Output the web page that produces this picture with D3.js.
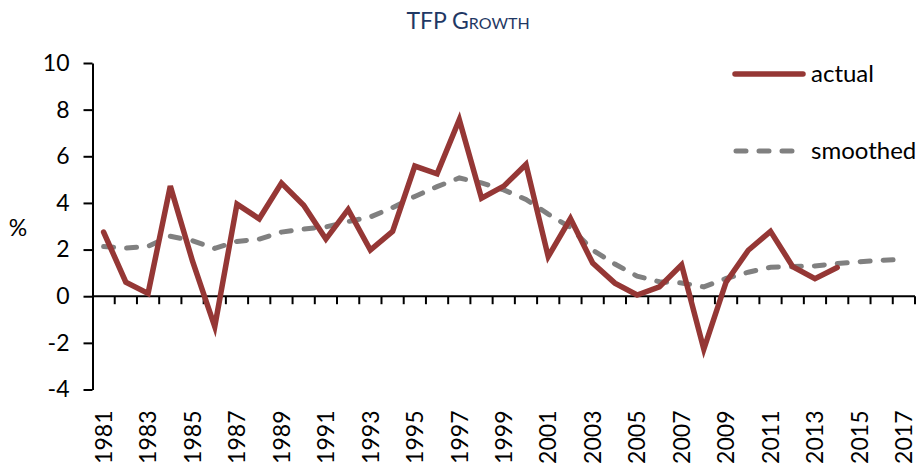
<!DOCTYPE html>
<html>
<head>
<meta charset="utf-8">
<script src="https://cdn.jsdelivr.net/npm/d3@7"></script>
<style>
  html, body { margin: 0; padding: 0; background: #fff; }
  svg { display: block; font-family: Lato, "Open Sans", sans-serif; }
</style>
</head>
<body>
<svg id="chart" width="922" height="464"></svg>
<script>
const years = d3.range(1981, 2018).map(String);
const actual = [2.75, 0.6, 0.12, 4.72, 1.5, -1.3, 3.95, 3.32, 4.85, 3.9, 2.45, 3.72, 1.98, 2.78, 5.58, 5.25, 7.57, 4.2, 4.72, 5.65, 1.7, 3.33, 1.42, 0.56, 0.05, 0.4, 1.35, -2.27, 0.6, 1.97, 2.78, 1.27, 0.75, 1.23];
const smoothed = [2.13, 2.06, 2.14, 2.57, 2.38, 2.05, 2.35, 2.45, 2.75, 2.88, 2.97, 3.2, 3.4, 3.8, 4.28, 4.7, 5.07, 4.86, 4.56, 4.15, 3.52, 2.95, 1.98, 1.38, 0.86, 0.62, 0.57, 0.4, 0.76, 1.03, 1.24, 1.27, 1.3, 1.4, 1.48, 1.54, 1.58];
const yTicks = [-4, -2, 0, 2, 4, 6, 8, 10];
const xLabelYears = years.filter((d, i) => i % 2 === 0);
const seriesNames = ["actual", "smoothed"];
const titleText = "TFP Growth";
const yAxisLabel = "%";

const svg = d3.select("#chart");
const plotLeft = 92.5, plotRight = 915, plotTop = 63, plotBottom = 389.5;

const x = d3.scaleBand().domain(years).range([plotLeft, plotRight]).padding(0);
const y = d3.scaleLinear().domain([-4, 10]).range([plotBottom, plotTop]);
const cx = d => x(d) + x.bandwidth() / 2;

// Title
svg.append("text")
  .attr("x", 468).attr("y", 29)
  .attr("text-anchor", "middle")
  .style("font-size", "23px")
  .style("font-variant", "small-caps")
  .attr("fill", "#1F3864")
  .text(titleText);

// Y axis
const yAxis = d3.axisLeft(y).tickValues(yTicks).tickSize(9).tickSizeOuter(0).tickPadding(14).tickFormat(d => String(d));
const gy = svg.append("g").attr("transform", `translate(${plotLeft},0)`).call(yAxis);
gy.select(".domain").attr("stroke", "#000").attr("stroke-width", 2);
gy.selectAll(".tick line").attr("stroke", "#000").attr("stroke-width", 2);
gy.selectAll(".tick text").style("font-size", "23px").style("font-family", "Lato, sans-serif").attr("fill", "#000");

// % label
svg.append("text").attr("x", 18).attr("y", 236).attr("text-anchor", "middle")
  .style("font-size", "23px").text(yAxisLabel);

// X axis at zero
const y0 = y(0);
svg.append("line").attr("x1", plotLeft).attr("x2", plotRight).attr("y1", y0).attr("y2", y0)
  .attr("stroke", "#000").attr("stroke-width", 2);
const boundaries = years.map(d => x(d) + x.bandwidth());
svg.append("g").selectAll("line").data(boundaries).join("line")
  .attr("x1", d => d).attr("x2", d => d)
  .attr("y1", y0).attr("y2", y0 + 8)
  .attr("stroke", "#000").attr("stroke-width", 2);

// X labels (low position)
svg.append("g").selectAll("text").data(xLabelYears).join("text")
  .attr("transform", d => `translate(${cx(d)},${plotBottom + 21}) rotate(-90)`)
  .attr("text-anchor", "end")
  .attr("dy", "0.36em")
  .style("font-size", "23px")
  .text(d => d);

// Lines
const line = d3.line().x(d => cx(d[0])).y(d => y(d[1]));
svg.append("path")
  .datum(years.map((d, i) => [d, smoothed[i]]))
  .attr("d", line).attr("fill", "none")
  .attr("stroke", "#808080").attr("stroke-width", 5)
  .attr("stroke-dasharray", "10,13").attr("stroke-linecap", "round");
svg.append("path")
  .datum(actual.map((v, i) => [years[i], v]))
  .attr("d", line).attr("fill", "none")
  .attr("stroke", "#953735").attr("stroke-width", 5.5)
  .attr("stroke-linejoin", "miter").attr("stroke-linecap", "round");

// Legend
const lg = svg.append("g");
lg.append("line").attr("x1", 735).attr("x2", 803).attr("y1", 74).attr("y2", 74)
  .attr("stroke", "#953735").attr("stroke-width", 5.5).attr("stroke-linecap", "round");
lg.append("text").attr("x", 811).attr("y", 82).style("font-size", "24px").text(seriesNames[0]);
lg.append("line").attr("x1", 736).attr("x2", 795).attr("y1", 151).attr("y2", 151)
  .attr("stroke", "#808080").attr("stroke-width", 5)
  .attr("stroke-dasharray", "10,13").attr("stroke-linecap", "round");
lg.append("text").attr("x", 811).attr("y", 159).style("font-size", "24px").text(seriesNames[1]);
</script>
</body>
</html>
